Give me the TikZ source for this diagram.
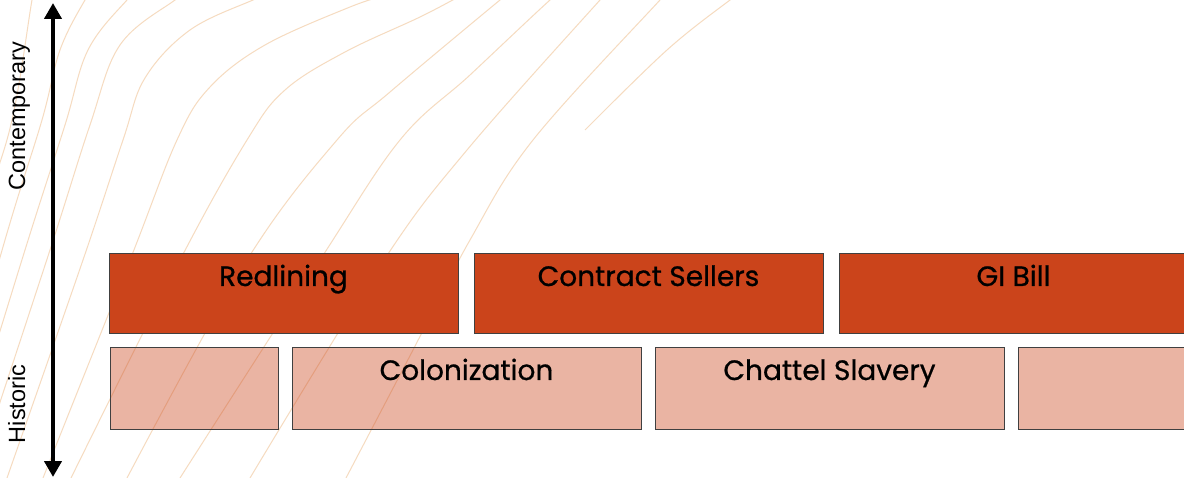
\documentclass[tikz,border=0pt]{standalone}
\usepackage{fontspec}
\setmainfont{Liberation Sans}
\newfontfamily\boxfont{Poppins}[FakeBold=0.7]
\usetikzlibrary{arrows.meta}
\definecolor{rust}{RGB}{203,68,27}
\definecolor{contour}{RGB}{246,219,192}
\begin{document}
\begin{tikzpicture}[x=1pt,y=-1pt,
  contourline/.style={draw=contour, line width=1pt},
  darkbox/.style={draw=black!75, line width=1pt, fill=rust, minimum width=349pt, minimum height=80pt, inner sep=0pt, outer sep=0pt},
  lightbox/.style={draw=black!75, line width=1pt, fill=rust, fill opacity=0.4, minimum height=81pt, inner sep=0pt, outer sep=0pt},
  boxtext/.style={font=\boxfont\fontsize{28}{30}\selectfont, anchor=base, inner sep=0pt},
  axislabel/.style={font=\fontsize{23.5}{25}\selectfont, rotate=90, anchor=base, inner sep=0pt},
  axisarrow/.style={line width=4.5pt, {Triangle[width=17pt,length=16pt]}-{Triangle[width=17pt,length=16pt]}}]
\useasboundingbox (0,0) rectangle (1184,478);
\fill[white] (0,0) rectangle (1184,478);
% background contour lines
\begin{scope}
\clip (0,0) rectangle (1184,478);
\draw[contourline] plot[smooth, tension=0.6] coordinates {(-80,478) (-20,230) (12,120) (32,0) (40,-40)};
\draw[contourline] plot[smooth, tension=0.6] coordinates {(-62,478) (5,240) (42,120) (60,50) (85,0) (100,-20)};
\draw[contourline] plot[smooth, tension=0.6] coordinates {(-45,478) (25,250) (65,125) (88,50) (127,0) (150,-20)};
\draw[contourline] plot[smooth, tension=0.6] coordinates {(-25,478) (50,250) (90,125) (120,45) (175,0) (200,-15)};
\draw[contourline] plot[smooth, tension=0.6] coordinates {(7,478) (83,260) (123,140) (145,78) (190,30) (253,0) (280,-10)};
\draw[contourline] plot[smooth, tension=0.6] coordinates {(43,478) (130,260) (177,140) (210,87) (265,45) (350,7) (390,-6)};
\draw[contourline] plot[smooth, tension=0.6] coordinates {(71,478) (180,260) (247,140) (285,90) (345,52) (420,17) (460,-4)};
\draw[contourline] plot[smooth, tension=0.6] coordinates {(127,478) (247,260) (337,140) (390,92) (500,0) (520,-15)};
\draw[contourline] plot[smooth, tension=0.6] coordinates {(180,478) (320,260) (400,140) (470,75) (550,0) (570,-15)};
\draw[contourline] plot[smooth, tension=0.6] coordinates {(250,478) (384,260) (467,150) (600,0) (615,-15)};
\draw[contourline] plot[smooth, tension=0.6] coordinates {(346,478) (413,350) (470,240) (533,140) (660,0) (675,-15)};
\draw[contourline] plot[smooth, tension=0.6] coordinates {(585,130) (667,50) (730,0) (748,-12)};
\end{scope}
% historic row
\node[lightbox, minimum width=168pt] (h1) at (194,388.5) {};
\node[lightbox, minimum width=349pt] (col) at (466.5,388.5) {};
\node[lightbox, minimum width=349pt] (cha) at (829.5,388.5) {};
\node[lightbox, minimum width=349pt] (h4) at (1192.5,388.5) {};
% contemporary row
\node[darkbox] (red) at (283.5,294) {};
\node[darkbox] (con) at (648.5,294) {};
\node[darkbox] (gib) at (1013.5,294) {};
% texts
\node[boxtext] (redT) at ([yshift=-32pt]red.north) {Redlining};
\node[boxtext] (conT) at ([yshift=-32pt]con.north) {Contract Sellers};
\node[boxtext] (gibT) at ([yshift=-32pt]gib.north) {GI Bill};
\node[boxtext] (colT) at ([yshift=-32pt]col.north) {Colonization};
\node[boxtext] (chaT) at ([yshift=-32pt]cha.north) {Chattel Slavery};
% axis
\coordinate (atop) at (53,3);
\coordinate (abot) at (53,477);
\draw[axisarrow] (abot) -- (atop);
\node[axislabel] (lcon) at (25,116) {Contemporary};
\node[axislabel] (lhis) at (25,404) {Historic};
\end{tikzpicture}
\end{document}
